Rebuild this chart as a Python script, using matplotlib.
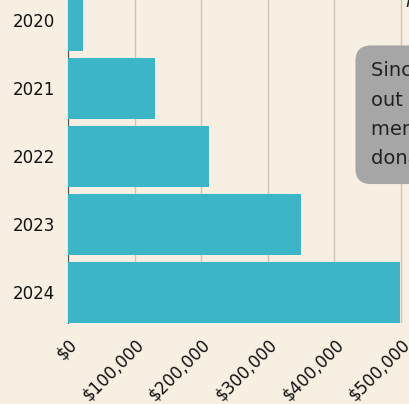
import matplotlib.pyplot as plt
from matplotlib.ticker import FuncFormatter

# ------------------------------------------------------------
# Data
# ------------------------------------------------------------
years = ["2020", "2021", "2022", "2023", "2024"]
amounts = [22500, 130000, 212000, 350000, 499000]
x_ticks = [0, 100000, 200000, 300000, 400000, 500000]

note_text = "Since launching\nout program, our\nmembers have\ndonated over"

BG = "#f7efe1"
BAR = "#3db5c9"
GRID = "#cfc5b5"

fig = plt.figure(figsize=(4.09, 4.04), dpi=100)
fig.patch.set_facecolor(BG)

# axes deliberately runs past the top/right edge of the figure
ax = fig.add_axes([68 / 409, 81 / 404, 341 / 409, 357 / 404])
ax.set_facecolor(BG)

y = list(range(len(years)))
ax.barh(y, amounts, height=0.9, color=BAR, zorder=3)

ax.set_xlim(0, 512000)
ax.set_ylim(4.45, -0.8)
ax.set_yticks(y)
ax.set_yticklabels(years)
ax.set_xticks(x_ticks)
ax.xaxis.set_major_formatter(FuncFormatter(lambda v, p: f"${v:,.0f}"))

ax.grid(axis="x", color=GRID, linewidth=1, zorder=0)
ax.grid(axis="y", visible=False)
for s in ["top", "right", "bottom"]:
    ax.spines[s].set_visible(False)
ax.spines["left"].set_color("#555555")
ax.spines["left"].set_linewidth(0.8)

ax.tick_params(axis="y", length=0, pad=9, labelsize=12, labelcolor="#111111")
ax.tick_params(axis="x", length=0, pad=9, labelsize=12, labelcolor="#111111")
for lab in ax.get_xticklabels():
    lab.set_rotation(45)
    lab.set_ha("right")
    lab.set_va("top")
    lab.set_rotation_mode("anchor")

# annotation box on the right, mostly cut off by the figure edge
fig.text(371 / 409, 1 - 61 / 404, note_text, ha="left", va="top",
         fontsize=14, color="#222222", linespacing=1.7,
         bbox=dict(boxstyle="round,pad=0.8,rounding_size=0.8",
                   facecolor="#a6a6a6", edgecolor="none"))

# tail of a subtitle cut at the top-right corner
fig.text(405 / 409, 1 - 11 / 404, "h", ha="left", va="bottom",
         fontsize=13, style="italic", color="#222222")

fig.savefig("out.png", dpi=100, facecolor=BG)
